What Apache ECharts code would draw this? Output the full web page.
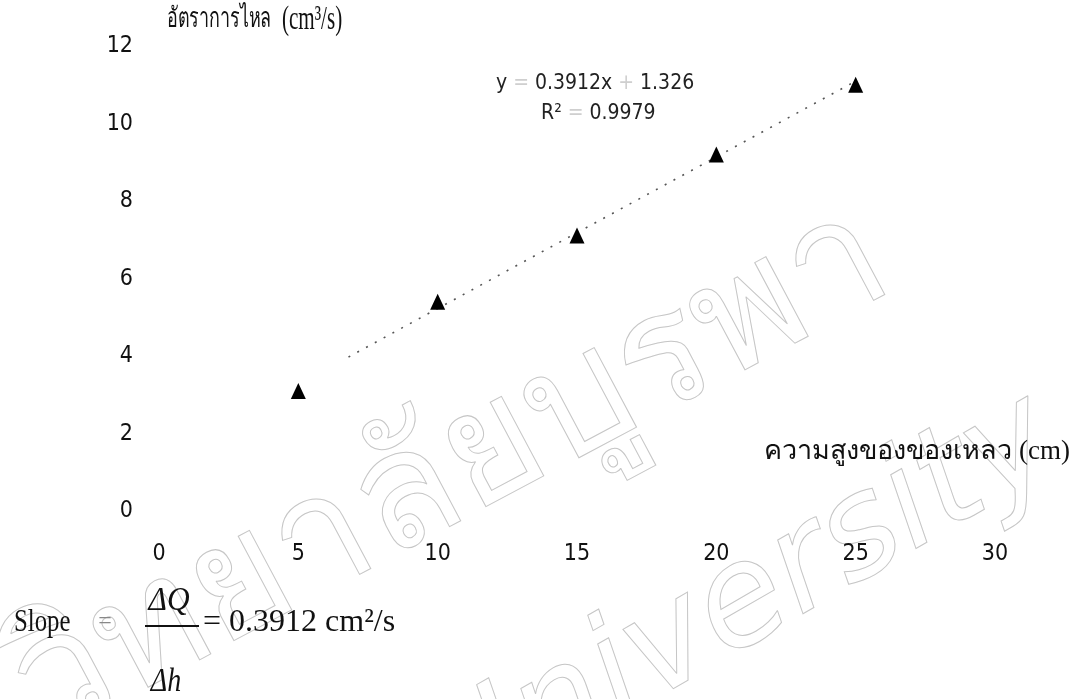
<!DOCTYPE html>
<html>
<head>
<meta charset="utf-8">
<script src="https://cdn.jsdelivr.net/npm/echarts@6/dist/echarts.min.js"></script>
<style>
  html, body { margin: 0; padding: 0; background: #ffffff; }
  #chart { width: 1076px; height: 699px; }
</style>
</head>
<body>
<div id="chart"></div>
<script>
// Liquid height (cm) against measured flow rate (cm^3/s)
const heights = [5, 10, 15, 20, 25];
const flowRates = [3.11, 5.41, 7.12, 9.21, 11.01];

// Axis tick values
const xTicks = [0, 5, 10, 15, 20, 25, 30];
const yTicks = [0, 2, 4, 6, 8, 10, 12];

// Linear trendline as printed on the chart
const fitSlope = 0.3912;
const fitIntercept = 1.326;
const fitR2 = 0.9979;
const fitRange = [6.8, 25];

// Text
const yTitleTh = 'อัตราการไหล';
const yTitleUnit = '(cm³/s)';
const xTitle = 'ความสูงของของเหลว (cm)';
const slopeLabel = 'Slope';
const slopeValue = '= ' + fitSlope + ' cm²/s';
const watermarkTh = 'วิทยาลัยบูรพา';
const watermarkEn = 'University';

const trendData = fitRange.map(x => [x, fitSlope * x + fitIntercept]);

const labelFont = "'DejaVu Sans Condensed', 'DejaVu Sans', sans-serif";
const serifFont = "'Liberation Serif', 'Noto Serif', serif";
const deg = Math.PI / 180;

const chart = echarts.init(document.getElementById('chart'), null, { renderer: 'canvas' });

// equation text pieces: operators are printed very faintly
const eqRich = {
  t: { fontSize: 21, fontFamily: labelFont, fill: '#222' },
  op: { fontSize: 21, fontFamily: labelFont, fill: '#cfcfcf' }
};

// y title: narrow Thai word followed by the unit
const titleRich = {
  th: { fontSize: 28, fontFamily: serifFont, fill: '#111' },
  u: { fontSize: 33, fontFamily: serifFont, fill: '#111' }
};

chart.setOption({
  backgroundColor: '#ffffff',
  animation: false,
  grid: { left: 159, right: 81, top: 46.5, bottom: 187.5, containLabel: false },
  xAxis: {
    type: 'value',
    min: xTicks[0],
    max: xTicks[xTicks.length - 1],
    interval: xTicks[1] - xTicks[0],
    axisLine: { show: false },
    axisTick: { show: false },
    splitLine: { show: false },
    axisLabel: { margin: 31, color: '#111', fontSize: 23, fontFamily: labelFont }
  },
  yAxis: {
    type: 'value',
    min: yTicks[0],
    max: yTicks[yTicks.length - 1],
    interval: yTicks[1] - yTicks[0],
    axisLine: { show: false },
    axisTick: { show: false },
    splitLine: { show: false },
    axisLabel: { margin: 26, color: '#111', fontSize: 23, fontFamily: labelFont }
  },
  series: [
    {
      type: 'line',
      data: trendData,
      symbol: 'none',
      silent: true,
      lineStyle: { color: '#555', width: 1.6, type: [2, 8] },
      z: 2
    },
    {
      type: 'scatter',
      data: heights.map((h, i) => [h, flowRates[i]]),
      symbol: 'triangle',
      symbolSize: [15, 16],
      itemStyle: { color: '#000', opacity: 1 },
      z: 3
    }
  ],
  graphic: [
    // faint outlined watermark behind the plot
    {
      type: 'text', z: -1, silent: true,
      x: 62, y: 772, rotation: 28 * deg,
      style: {
        text: watermarkTh, fontSize: 162, fontFamily: "'Noto Sans', sans-serif",
        fill: 'rgba(0,0,0,0)', stroke: '#c6c6c6', lineWidth: 1,
        textAlign: 'left', textVerticalAlign: 'bottom'
      }
    },
    {
      type: 'text', z: -1, silent: true,
      x: 470, y: 845, rotation: 30 * deg,
      style: {
        text: watermarkEn, fontSize: 140, fontFamily: "'DejaVu Sans', sans-serif",
        fontStyle: 'italic',
        fill: 'rgba(0,0,0,0)', stroke: '#c6c6c6', lineWidth: 1,
        textAlign: 'left', textVerticalAlign: 'bottom'
      }
    },
    // axis titles
    {
      type: 'text', x: 167, y: 20, scaleX: 0.64,
      style: {
        text: '{th|' + yTitleTh + '}{u|  ' + yTitleUnit + '}',
        rich: titleRich, textAlign: 'left', textVerticalAlign: 'middle'
      }
    },
    {
      type: 'text', x: 1070, y: 452,
      style: { text: xTitle, fontSize: 27, fontFamily: serifFont, fill: '#111',
               textAlign: 'right', textVerticalAlign: 'middle' }
    },
    // trendline equation
    {
      type: 'text', x: 496, y: 84,
      style: {
        text: '{t|y}{op| = }{t|' + fitSlope + 'x}{op| + }{t|' + fitIntercept + '}',
        rich: eqRich, textAlign: 'left', textVerticalAlign: 'middle'
      }
    },
    {
      type: 'text', x: 541, y: 114,
      style: {
        text: '{t|R²}{op| = }{t|' + fitR2 + '}',
        rich: eqRich, textAlign: 'left', textVerticalAlign: 'middle'
      }
    },
    // slope = ΔQ / Δh = value
    {
      type: 'text', x: 14, y: 623, scaleX: 0.8,
      style: { text: slopeLabel, fontSize: 31, fontFamily: serifFont, fill: '#111',
               textAlign: 'left', textVerticalAlign: 'middle' }
    },
    {
      type: 'text', x: 105, y: 622,
      style: { text: '=', fontSize: 24, fontFamily: serifFont, fill: '#888',
               textAlign: 'center', textVerticalAlign: 'middle' }
    },
    {
      type: 'text', x: 169, y: 601, scaleX: 0.95,
      style: { text: 'ΔQ', fontSize: 33, fontFamily: serifFont, fontStyle: 'italic', fill: '#111',
               textAlign: 'center', textVerticalAlign: 'middle' }
    },
    {
      type: 'line', shape: { x1: 145, y1: 626, x2: 199, y2: 626 },
      style: { stroke: '#111', lineWidth: 2 }
    },
    {
      type: 'text', x: 166, y: 682, scaleX: 0.85,
      style: { text: 'Δh', fontSize: 33, fontFamily: serifFont, fontStyle: 'italic', fill: '#111',
               textAlign: 'center', textVerticalAlign: 'middle' }
    },
    {
      type: 'text', x: 203, y: 623,
      style: { text: slopeValue, fontSize: 32, fontFamily: serifFont, fill: '#111',
               textAlign: 'left', textVerticalAlign: 'middle' }
    }
  ]
});
</script>
</body>
</html>
